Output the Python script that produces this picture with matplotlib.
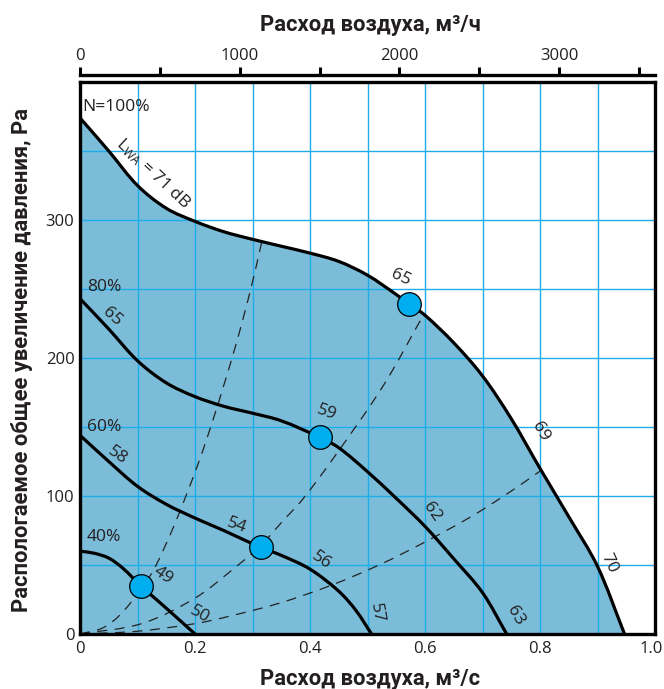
import numpy as np
import matplotlib
matplotlib.use("Agg")
import matplotlib.pyplot as plt
from matplotlib.path import Path
from matplotlib.patches import PathPatch

plt.rcParams['font.family'] = ['Open Sans', 'DejaVu Sans']
plt.rcParams['mathtext.default'] = 'regular'

# Fan characteristic curves: airflow (m3/s) vs available pressure (Pa)
q_100 = [0, 0.05, 0.1, 0.15, 0.2, 0.25, 0.3, 0.35, 0.4, 0.45, 0.5, 0.55, 0.573,
         0.6, 0.65, 0.7, 0.75, 0.8, 0.85, 0.9, 0.947]
p_100 = [374, 350, 325, 308.5, 299, 291.5, 286, 281, 276, 270, 260, 246, 239,
         231, 211, 187, 156, 120, 85, 49, 0]

q_80 = [0, 0.05, 0.1, 0.15, 0.2, 0.25, 0.3, 0.35, 0.417, 0.45, 0.5, 0.55, 0.6,
        0.65, 0.7, 0.742]
p_80 = [243, 221, 198, 182, 172, 165, 160, 154.5, 142.5, 135, 117.6, 98.3,
        78, 54.5, 30, 0]

q_60 = [0, 0.05, 0.1, 0.15, 0.2, 0.25, 0.314, 0.35, 0.4, 0.45, 0.48, 0.507]
p_60 = [144, 125, 107, 94, 84, 75, 62.8, 57, 47, 31, 17, 0]

q_40 = [0, 0.025, 0.05, 0.075, 0.1055, 0.13, 0.16, 0.2]
p_40 = [60, 58.5, 55, 47.5, 35, 26, 15, 0]

# System (duct) characteristics
q_sys_a = [0, 0.04, 0.07, 0.105, 0.13, 0.165, 0.206, 0.235, 0.27, 0.297, 0.316]
p_sys_a = [0, 4.5, 14, 32, 48, 80, 124, 160, 208, 250, 284]

q_sys_b = [0, 0.107, 0.2, 0.275, 0.314, 0.353, 0.386, 0.44, 0.5275, 0.597]
p_sys_b = [0, 7.5, 26, 50, 64, 82, 97, 127, 180, 231]

q_sys_c = [0, 0.1, 0.2, 0.261, 0.348, 0.435, 0.52, 0.597, 0.68, 0.748, 0.8]
p_sys_c = [0, 2, 7.5, 13, 22.5, 35, 50, 66, 85, 103, 118]

# Operating points
q_points = [0.1055, 0.314, 0.417, 0.573]
p_points = [35, 62.8, 142.5, 239]

# Sound power levels and speed labels
curve_labels = [
    ("N=100%", 0.004, 382, 0, 'left'),
    (r"$L_{WA}$ = 71 dB", 0.127, 334, -43, 'center'),
    ("65", 0.557, 258.5, -25, 'center'),
    ("69", 0.800, 146.4, -60, 'center'),
    ("70", 0.9205, 51.2, -65, 'center'),
    ("80%", 0.012, 251.7, 0, 'left'),
    ("65", 0.055, 230, -42, 'center'),
    ("59", 0.429, 160.5, -20, 'center'),
    ("62", 0.613, 88.6, -55, 'center'),
    ("63", 0.7565, 13.4, -60, 'center'),
    ("60%", 0.012, 150, 0, 'left'),
    ("58", 0.0655, 129.7, -35, 'center'),
    ("54", 0.2725, 78.8, -20, 'center'),
    ("56", 0.42, 53.6, -35, 'center'),
    ("57", 0.515, 15, -80, 'center'),
    ("40%", 0.012, 70, 0, 'left'),
    ("49", 0.145, 42.8, -35, 'center'),
    ("50", 0.2087, 13.8, -30, 'center'),
]

x_ticks = [0, 0.1, 0.2, 0.3, 0.4, 0.5, 0.6, 0.7, 0.8, 0.9, 1.0]
x_tick_labels = ["0", "", "0.2", "", "0.4", "", "0.6", "", "0.8", "", ""]
x_last_label = "1.0"
y_ticks = [0, 50, 100, 150, 200, 250, 300, 350, 400]
y_tick_labels = ["0", "", "100", "", "200", "", "300", "", ""]
top_ticks = [0, 500, 1000, 1500, 2000, 2500, 3000, 3500]
top_tick_labels = ["0", "", "1000", "", "2000", "", "3000", ""]

TXT = '#231f20'
FILL = '#7bbcd8'
GRID = '#1dadea'
MARK = '#00aeef'
W, H = 664, 689
SX, SY = 575.0, 1.38  # pixels per data unit, used to smooth curves isotropically


def smooth_path(q, p, close_to_axis=False):
    """Cubic Bezier path through the given points (tangents from neighbours)."""
    pts = np.column_stack([np.asarray(q, float) * SX, np.asarray(p, float) * SY])
    n = len(pts)
    tang = []
    for i in range(n):
        if i == 0:
            d = pts[1] - pts[0]
        elif i == n - 1:
            d = pts[-1] - pts[-2]
        else:
            d = pts[i + 1] - pts[i - 1]
        tang.append(d / np.hypot(*d))
    verts = [pts[0]]
    codes = [Path.MOVETO]
    for i in range(n - 1):
        seg = np.hypot(*(pts[i + 1] - pts[i]))
        verts += [pts[i] + tang[i] * seg / 3, pts[i + 1] - tang[i + 1] * seg / 3,
                  pts[i + 1]]
        codes += [Path.CURVE4] * 3
    if close_to_axis:
        verts += [np.array([pts[-1][0], 0.0]), np.array([0.0, 0.0]),
                  np.array([0.0, 0.0])]
        codes += [Path.LINETO, Path.LINETO, Path.CLOSEPOLY]
    verts = np.array(verts) / np.array([SX, SY])
    return Path(verts, codes)


fig = plt.figure(figsize=(W / 100, H / 100), dpi=100)
ax = fig.add_axes([80 / W, (H - 634) / H, 575 / W, 552 / H])
ax.set_xlim(0, 1.0)
ax.set_ylim(0, 400)

ax.add_patch(PathPatch(smooth_path(q_100, p_100, close_to_axis=True),
                       facecolor=FILL, edgecolor='none', lw=0, zorder=1))

ax.set_axisbelow(False)
ax.set_xticks(x_ticks)
ax.set_xticklabels(x_tick_labels)
ax.set_yticks(y_ticks)
ax.set_yticklabels(y_tick_labels)
ax.grid(True, color=GRID, lw=1.0)
ax.tick_params(length=0, labelsize=12, colors=TXT)
ax.tick_params(axis='x', pad=5)
ax.tick_params(axis='y', pad=4)
ax.annotate(x_last_label, xy=(1.0, 0), xycoords=('data', 'axes fraction'),
            xytext=(6, -5.2), textcoords='offset points', ha='right',
            va='top', fontsize=12, color=TXT, annotation_clip=False)

for s in ax.spines.values():
    s.set_linewidth(2.4)
    s.set_color('black')
    s.set_zorder(6)

for q, p in [(q_100, p_100), (q_80, p_80), (q_60, p_60), (q_40, p_40)]:
    ax.add_patch(PathPatch(smooth_path(q, p), fill=False, edgecolor='black',
                           lw=2.3, zorder=4, capstyle='butt'))

for q, p in [(q_sys_a, p_sys_a), (q_sys_b, p_sys_b), (q_sys_c, p_sys_c)]:
    ax.add_patch(PathPatch(smooth_path(q, p), fill=False, edgecolor='#222222',
                           lw=0.9, ls=(0, (8, 6)), zorder=3))

ax.plot(q_points, p_points, 'o', ms=17, mfc=MARK, mec='black', mew=0.9,
        zorder=5)

for text, x, y, rot, ha in curve_labels:
    ax.text(x, y, text, fontsize=12.5, color=TXT, rotation=rot, ha=ha,
            va='center', rotation_mode='anchor', zorder=7)

# Top axis in m3/h
ax2 = ax.twiny()
ax2.set_xlim(0, 3600)
ax2.set_xticks(top_ticks)
ax2.set_xticklabels(top_tick_labels)
for side in ['left', 'right', 'bottom']:
    ax2.spines[side].set_visible(False)
ax2.spines['top'].set_position(('outward', 5))
ax2.spines['top'].set_linewidth(2.4)
ax2.tick_params(axis='x', direction='out', length=6, width=2.2,
                labelsize=12, colors='black', labelcolor=TXT, pad=2)

title_font = ['Liberation Sans Narrow', 'Roboto', 'DejaVu Sans']
title_size = 15.8
fig.text(370 / W, 1 - 25 / H, "Расход воздуха, м³/ч", ha='center',
         va='center', fontsize=title_size, fontweight='bold',
         family=title_font, color=TXT)
fig.text(370 / W, 1 - 679 / H, "Расход воздуха, м³/с", ha='center',
         va='center', fontsize=title_size, fontweight='bold',
         family=title_font, color=TXT)
fig.text(22 / W, 1 - 360 / H, "Распологаемое общее увеличение давления, Pa",
         ha='center', va='center', rotation=90, fontsize=title_size,
         fontweight='bold', family=title_font, color=TXT)

fig.savefig("out.png", dpi=100)
